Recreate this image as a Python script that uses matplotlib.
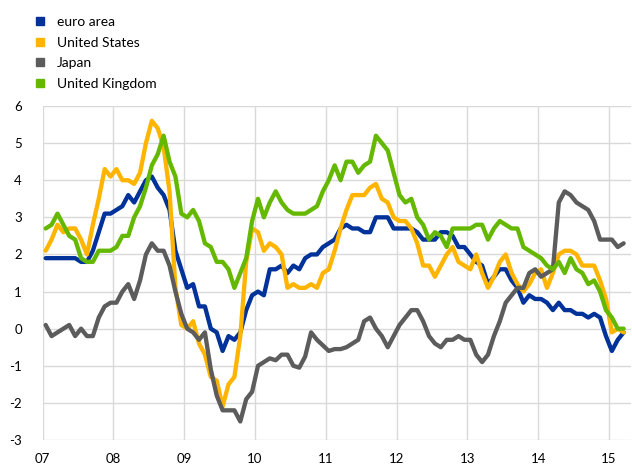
import numpy as np
import matplotlib
matplotlib.use('Agg')
import matplotlib.pyplot as plt
from matplotlib.lines import Line2D

# annual % changes, monthly, Jan 2007 - Mar 2015
euro_area = [
    1.9, 1.9, 1.9, 1.9, 1.9, 1.9, 1.8, 1.8, 2.1, 2.6, 3.1, 3.1,
    3.2, 3.3, 3.6, 3.4, 3.7, 4.0, 4.1, 3.8, 3.6, 3.2, 2.1, 1.6,
    1.1, 1.2, 0.6, 0.6, 0.0, -0.1, -0.6, -0.2, -0.3, -0.1, 0.5, 0.9,
    1.0, 0.9, 1.6, 1.6, 1.7, 1.5, 1.7, 1.6, 1.9, 2.0, 2.0, 2.2,
    2.3, 2.4, 2.7, 2.8, 2.7, 2.7, 2.6, 2.6, 3.0, 3.0, 3.0, 2.7,
    2.7, 2.7, 2.7, 2.6, 2.4, 2.4, 2.4, 2.6, 2.6, 2.5, 2.2, 2.2,
    2.0, 1.8, 1.7, 1.2, 1.4, 1.6, 1.6, 1.3, 1.1, 0.7, 0.9, 0.8,
    0.8, 0.7, 0.5, 0.7, 0.5, 0.5, 0.4, 0.4, 0.3, 0.4, 0.3, -0.2,
    -0.6, -0.3, -0.1,
]
united_states = [
    2.1, 2.4, 2.8, 2.6, 2.7, 2.7, 2.4, 2.0, 2.8, 3.5, 4.3, 4.1,
    4.3, 4.0, 4.0, 3.9, 4.2, 5.0, 5.6, 5.4, 4.9, 3.7, 1.1, 0.1,
    0.0, 0.2, -0.4, -0.7, -1.3, -1.4, -2.1, -1.5, -1.3, -0.2, 1.8, 2.7,
    2.6, 2.1, 2.3, 2.2, 2.0, 1.1, 1.2, 1.1, 1.1, 1.2, 1.1, 1.5,
    1.6, 2.1, 2.7, 3.2, 3.6, 3.6, 3.6, 3.8, 3.9, 3.5, 3.4, 3.0,
    2.9, 2.9, 2.7, 2.3, 1.7, 1.7, 1.4, 1.7, 2.0, 2.2, 1.8, 1.7,
    1.6, 2.0, 1.5, 1.1, 1.4, 1.8, 2.0, 1.5, 1.2, 1.0, 1.2, 1.5,
    1.6, 1.1, 1.5, 2.0, 2.1, 2.1, 2.0, 1.7, 1.7, 1.7, 1.3, 0.8,
    -0.1, 0.0, -0.1,
]
japan = [
    0.1, -0.2, -0.1, 0.0, 0.1, -0.2, 0.0, -0.2, -0.2, 0.3, 0.6, 0.7,
    0.7, 1.0, 1.2, 0.8, 1.3, 2.0, 2.3, 2.1, 2.1, 1.7, 1.0, 0.4,
    0.0, -0.1, -0.3, -0.1, -1.1, -1.8, -2.2, -2.2, -2.2, -2.5, -1.9, -1.7,
    -1.0, -0.9, -0.8, -0.85, -0.7, -0.7, -1.0, -1.05, -0.75, -0.1, -0.3, -0.45,
    -0.6, -0.55, -0.55, -0.5, -0.4, -0.3, 0.2, 0.3, 0.0, -0.2, -0.5, -0.2,
    0.1, 0.3, 0.5, 0.5, 0.2, -0.2, -0.4, -0.5, -0.3, -0.3, -0.2, -0.3,
    -0.3, -0.7, -0.9, -0.7, -0.2, 0.2, 0.7, 0.9, 1.1, 1.1, 1.5, 1.6,
    1.4, 1.5, 1.6, 3.4, 3.7, 3.6, 3.4, 3.3, 3.2, 2.9, 2.4, 2.4,
    2.4, 2.2, 2.3,
]
united_kingdom = [
    2.7, 2.8, 3.1, 2.8, 2.5, 2.4, 1.9, 1.8, 1.8, 2.1, 2.1, 2.1,
    2.2, 2.5, 2.5, 3.0, 3.3, 3.8, 4.4, 4.7, 5.2, 4.5, 4.1, 3.1,
    3.0, 3.2, 2.9, 2.3, 2.2, 1.8, 1.8, 1.6, 1.1, 1.5, 1.9, 2.9,
    3.5, 3.0, 3.4, 3.7, 3.4, 3.2, 3.1, 3.1, 3.1, 3.2, 3.3, 3.7,
    4.0, 4.4, 4.0, 4.5, 4.5, 4.2, 4.4, 4.5, 5.2, 5.0, 4.8, 4.2,
    3.6, 3.4, 3.5, 3.0, 2.8, 2.4, 2.6, 2.5, 2.2, 2.7, 2.7, 2.7,
    2.7, 2.8, 2.8, 2.4, 2.7, 2.9, 2.8, 2.7, 2.7, 2.2, 2.1, 2.0,
    1.9, 1.7, 1.6, 1.8, 1.5, 1.9, 1.6, 1.5, 1.2, 1.3, 1.0, 0.5,
    0.3, 0.0, 0.0,
]

series_names = ['euro area', 'United States', 'Japan', 'United Kingdom']
series_colors = ['#003299', '#FFB400', '#5C5C5C', '#65B800']
year_labels = ['07', '08', '09', '10', '11', '12', '13', '14', '15']

plt.rcParams['font.family'] = ['Lato', 'DejaVu Sans']
plt.rcParams['font.size'] = 9.5
plt.rcParams['axes.unicode_minus'] = False

fig = plt.figure(figsize=(6.32, 4.68), dpi=100)
ax = fig.add_axes([0.0676, 0.0598, 0.9304, 0.7137])

months = np.arange(len(euro_area)) + 0.5
for values, name, color in zip([euro_area, united_states, japan, united_kingdom],
                               series_names, series_colors):
    ax.plot(months, values, color=color, lw=3.1, label=name,
            solid_joinstyle='round', solid_capstyle='round')

ax.set_xlim(0, 99.7)
ax.set_ylim(-3, 6)
ax.set_yticks(range(-3, 7))
ax.set_xticks(np.arange(len(year_labels)) * 12)
ax.set_xticklabels(year_labels)
ax.grid(True, color='#d9d9d9', lw=1.0)
ax.set_axisbelow(True)
for s in ax.spines.values():
    s.set_visible(False)
ax.tick_params(axis='both', length=0, colors='#000000')
ax.tick_params(axis='y', pad=15)
ax.tick_params(axis='x', pad=9)

handles = [Line2D([], [], marker='s', ls='none', markersize=5.5, color=c) for c in series_colors]
fig.legend(handles, series_names, loc='upper left', bbox_to_anchor=(0.053, 0.966),
           frameon=False, borderpad=0, borderaxespad=0, handlelength=1.0,
           handletextpad=0.7, labelspacing=0.62, fontsize=10)

fig.savefig('out.png', dpi=100)
